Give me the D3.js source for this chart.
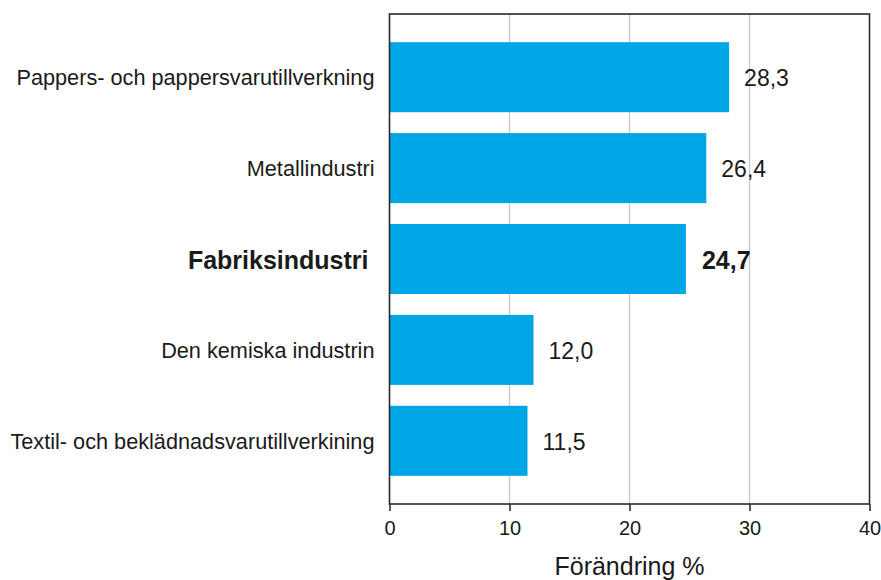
<!DOCTYPE html>
<html>
<head>
<meta charset="utf-8">
<script src="https://cdn.jsdelivr.net/npm/d3@7"></script>
<style>
  html, body { margin: 0; padding: 0; background: #fff; }
  svg { display: block; font-family: "Liberation Sans", Arial, sans-serif; }
</style>
</head>
<body>
<svg id="chart" width="881" height="580"></svg>
<script>
const categories = [
  "Pappers- och pappersvarutillverkning",
  "Metallindustri",
  "Fabriksindustri",
  "Den kemiska industrin",
  "Textil- och beklädnadsvarutillverkining"
];
const values = [28.3, 26.4, 24.7, 12.0, 11.5];
const highlighted = ["Fabriksindustri"];
const xTicks = [0, 10, 20, 30, 40];
const xTitle = "Förändring %";

const svg = d3.select("#chart");
const pLeft = 389.5, pRight = 869.5, pTop = 14, pBottom = 504;

const x = d3.scaleLinear().domain([0, 40]).range([pLeft, pRight]);
const y = d3.scaleBand().domain(categories).range([pTop, pBottom])
  .paddingInner(0.23).paddingOuter(0.31);

const fmt = v => d3.format(".1f")(v).replace(".", ",");
const data = categories.map((c, i) => ({ c, v: values[i], hl: highlighted.includes(c) }));

// gridlines
svg.append("g").selectAll("line").data(xTicks.filter(t => t > 0 && t < 40)).join("line")
  .attr("x1", d => x(d)).attr("x2", d => x(d))
  .attr("y1", pTop).attr("y2", pBottom)
  .attr("stroke", "#c8c8c8").attr("stroke-width", 1.3);

// bars
svg.append("g").selectAll("rect").data(data).join("rect")
  .attr("x", x(0))
  .attr("y", d => y(d.c))
  .attr("width", d => x(d.v) - x(0))
  .attr("height", y.bandwidth())
  .attr("fill", "#00a6e6");

// value labels
svg.append("g").selectAll("text").data(data).join("text")
  .attr("x", d => x(d.v) + (d.hl ? 16 : 15))
  .attr("y", d => y(d.c) + y.bandwidth() / 2)
  .attr("dy", d => d.hl ? "0.4em" : "0.38em")
  .attr("font-size", d => d.hl ? 25 : 23)
  .attr("font-weight", d => d.hl ? "bold" : "normal")
  .attr("fill", "#1a1a1a")
  .text(d => fmt(d.v));

// category labels
svg.append("g").selectAll("text").data(data).join("text")
  .attr("x", d => d.hl ? pLeft - 21 : pLeft - 15)
  .attr("y", d => y(d.c) + y.bandwidth() / 2)
  .attr("dy", d => d.hl ? "0.4em" : "0.38em")
  .attr("text-anchor", "end")
  .attr("font-size", d => d.hl ? 25 : 21.7)
  .attr("font-weight", d => d.hl ? "bold" : "normal")
  .attr("fill", "#1a1a1a")
  .text(d => d.c);

// x axis
const axis = svg.append("g").attr("transform", `translate(0,${pBottom})`)
  .call(d3.axisBottom(x).tickValues(xTicks).tickSize(7).tickSizeOuter(0).tickPadding(10));
axis.select(".domain").remove();
axis.selectAll(".tick line").attr("stroke", "#222").attr("stroke-width", 1.5);
axis.selectAll(".tick text").attr("font-size", 20).attr("fill", "#1a1a1a")
  .attr("font-family", "Liberation Sans, Arial, sans-serif");

// frame
svg.append("rect")
  .attr("x", pLeft).attr("y", pTop)
  .attr("width", pRight - pLeft).attr("height", pBottom - pTop)
  .attr("fill", "none").attr("stroke", "#2a2a2a").attr("stroke-width", 1.6);

// axis title
svg.append("text")
  .attr("x", (pLeft + pRight) / 2).attr("y", 575)
  .attr("text-anchor", "middle")
  .attr("font-size", 25).attr("fill", "#1a1a1a")
  .text(xTitle);
</script>
</body>
</html>
